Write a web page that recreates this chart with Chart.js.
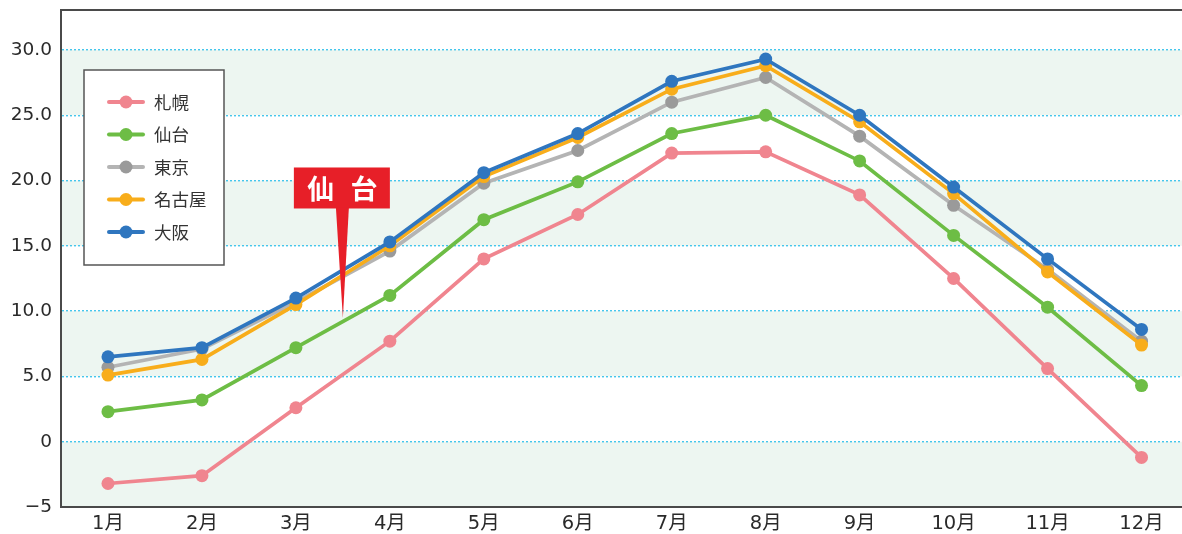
<!DOCTYPE html>
<html><head><meta charset="utf-8"><title>月別平均気温</title>
<script src="https://cdn.jsdelivr.net/npm/chart.js"></script>
<style>
  html, body { margin: 0; padding: 0; background: #fff; overflow: hidden; }
</style></head>
<body>
<canvas id="tempChart" width="1195" height="534"></canvas>
<script>
const months = ['1月','2月','3月','4月','5月','6月','7月','8月','9月','10月','11月','12月'];
const sapporo = [-3.2, -2.6, 2.6, 7.7, 14.0, 17.4, 22.1, 22.2, 18.9, 12.5, 5.6, -1.2];
const sendai  = [2.3, 3.2, 7.2, 11.2, 17.0, 19.9, 23.6, 25.0, 21.5, 15.8, 10.3, 4.3];
const tokyo   = [5.7, 7.1, 10.7, 14.6, 19.8, 22.3, 26.0, 27.9, 23.4, 18.1, 13.2, 7.7];
const nagoya  = [5.1, 6.3, 10.5, 15.0, 20.3, 23.3, 27.0, 28.8, 24.5, 19.0, 13.0, 7.4];
const osaka   = [6.5, 7.2, 11.0, 15.3, 20.6, 23.6, 27.6, 29.3, 25.0, 19.5, 14.0, 8.6];
const yTicks = [-5, 0, 5, 10, 15, 20, 25, 30];
const yTickLabels = ['−5', '0', '5.0', '10.0', '15.0', '20.0', '25.0', '30.0'];
const calloutText = '仙 台';

const FONT = '"Noto Sans CJK JP", "DejaVu Sans", sans-serif';
const TICK_FONT = '"DejaVu Sans", "Noto Sans CJK JP", sans-serif';

function series(label, data, line, point, order) {
  return {
    label, data, order,
    borderColor: line, backgroundColor: point,
    pointBackgroundColor: point, pointBorderWidth: 0,
    pointRadius: 6.5, borderWidth: 3.7, tension: 0
  };
}

// 緑の帯（5度おき）と上辺の枠線
const bands = {
  id: 'bands',
  beforeDraw(chart) {
    const {ctx, chartArea: a, scales: {y}} = chart;
    ctx.save();
    ctx.fillStyle = '#edf6f1';
    [[25, 30], [15, 20], [5, 10], [-5, 0]].forEach(([lo, hi]) => {
      const t = y.getPixelForValue(hi), b = y.getPixelForValue(lo);
      ctx.fillRect(a.left, t, a.right - a.left, b - t);
    });
    ctx.restore();
  },
  afterDraw(chart) {
    const {ctx, chartArea: a} = chart;
    ctx.save();
    ctx.strokeStyle = '#4a4a4a';
    ctx.lineWidth = 2;
    ctx.beginPath();
    ctx.moveTo(a.left - 1, a.top);
    ctx.lineTo(a.right, a.top);
    ctx.stroke();
    ctx.restore();
  }
};

// 枠付きの凡例
const boxLegend = {
  id: 'boxLegend',
  afterDraw(chart) {
    const {ctx, chartArea: a} = chart;
    const x0 = a.left + 23, y0 = 70, w = 140, h = 195;
    ctx.save();
    ctx.fillStyle = '#fff';
    ctx.fillRect(x0, y0, w, h);
    ctx.strokeStyle = '#555';
    ctx.lineWidth = 1.5;
    ctx.strokeRect(x0, y0, w, h);
    chart.data.datasets.forEach((ds, k) => {
      const cy = y0 + 32 + k * 32.5;
      ctx.strokeStyle = ds.borderColor;
      ctx.lineWidth = 4;
      ctx.lineCap = 'round';
      ctx.beginPath();
      ctx.moveTo(x0 + 25, cy);
      ctx.lineTo(x0 + 59, cy);
      ctx.stroke();
      ctx.fillStyle = ds.pointBackgroundColor;
      ctx.beginPath();
      ctx.arc(x0 + 42, cy, 6.5, 0, Math.PI * 2);
      ctx.fill();
      ctx.fillStyle = '#333';
      ctx.font = '17.5px ' + FONT;
      ctx.textBaseline = 'middle';
      ctx.textAlign = 'left';
      ctx.fillText(ds.label, x0 + 70, cy);
    });
    ctx.restore();
  }
};

// 吹き出し「仙台」
const callout = {
  id: 'callout',
  afterDraw(chart) {
    const {ctx, scales: {x, y}} = chart;
    const tipX = (x.getPixelForValue(2) + x.getPixelForValue(3)) / 2;
    const tipY = y.getPixelForValue(9.5);
    const top = y.getPixelForValue(21.0);
    const bw = 96, bh = 41, bx = tipX - 49;
    ctx.save();
    ctx.fillStyle = '#e71f28';
    ctx.fillRect(bx, top, bw, bh);
    ctx.beginPath();
    ctx.moveTo(tipX - 7, top + bh - 1);
    ctx.lineTo(tipX + 6, top + bh - 1);
    ctx.lineTo(tipX, tipY);
    ctx.closePath();
    ctx.fill();
    ctx.fillStyle = '#fff';
    ctx.font = 'bold 27px ' + FONT;
    ctx.letterSpacing = '5px';
    ctx.textAlign = 'center';
    ctx.textBaseline = 'middle';
    ctx.fillText(calloutText, bx + bw / 2 + 3, top + bh / 2 + 1);
    ctx.restore();
  }
};

new Chart(document.getElementById('tempChart'), {
  type: 'line',
  data: {
    labels: months,
    datasets: [
      series('札幌', sapporo, '#f0858f', '#f0858f', 5),
      series('仙台', sendai, '#6dbd45', '#6dbd45', 4),
      series('東京', tokyo, '#b4b4b4', '#9a9a9a', 3),
      series('名古屋', nagoya, '#f8ad1b', '#f8ad1b', 2),
      series('大阪', osaka, '#2f76bf', '#2f76bf', 1)
    ]
  },
  options: {
    responsive: false,
    animation: false,
    layout: { padding: { top: 10, right: 2, left: 0, bottom: 0 } },
    plugins: { legend: { display: false }, tooltip: { enabled: false } },
    scales: {
      x: {
        offset: true,
        grid: { display: false, drawTicks: false },
        border: { display: true, color: '#4a4a4a', width: 2 },
        ticks: { color: '#2a2a2a', font: { family: TICK_FONT, size: 19.5 }, padding: 5, maxRotation: 0 },
        afterFit(s) { s.height = 27; }
      },
      y: {
        min: -5,
        max: 33.06,
        afterBuildTicks(s) { s.ticks = yTicks.map(v => ({ value: v })); },
        grid: { color: '#45c6ec', lineWidth: 1.4, drawTicks: false },
        border: { display: true, color: '#4a4a4a', width: 2, dash: [2, 2] },
        ticks: {
          color: '#2a2a2a', font: { family: TICK_FONT, size: 18.5 }, padding: 9,
          callback: v => yTickLabels[yTicks.indexOf(v)]
        },
        afterFit(s) { s.width = 61; s.paddingTop = 0; s.paddingBottom = 0; }
      }
    }
  },
  plugins: [bands, boxLegend, callout]
});
</script></body></html>
